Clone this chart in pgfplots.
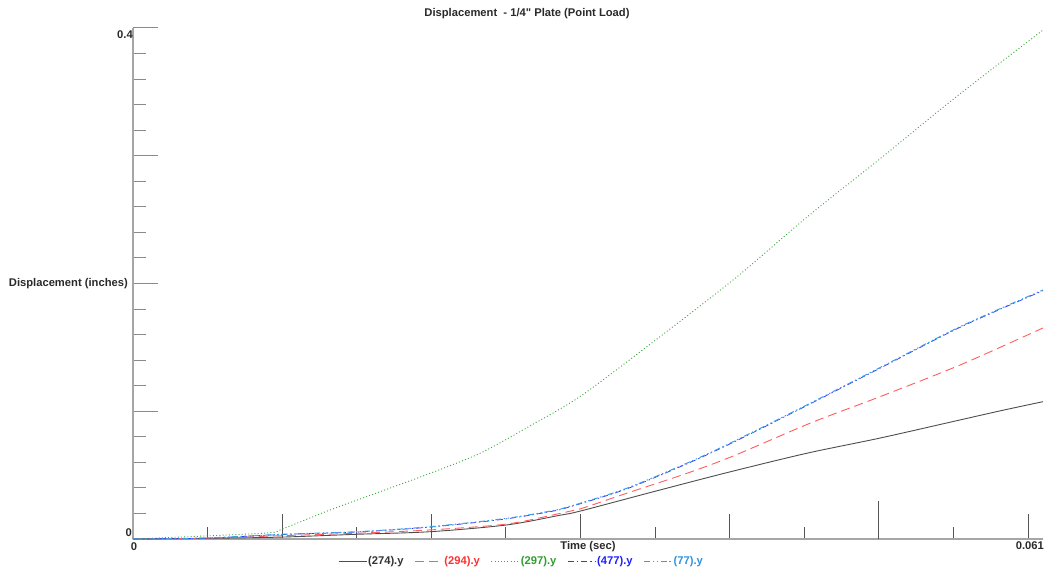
\documentclass[border=0pt]{standalone}
\usepackage{fontspec}
\setmainfont{Liberation Sans}
\newfontfamily\nomap{Liberation Sans}
\usepackage{pgfplots}
\pgfplotsset{compat=1.18}
\usepackage{pgfplotstable}

\definecolor{c274}{HTML}{4D4D4D}
\definecolor{c294}{HTML}{FF5C5C}
\definecolor{c297}{HTML}{3DAA3D}
\definecolor{c477}{HTML}{3535FF}
\definecolor{c77}{HTML}{3A9FE6}
\definecolor{t274}{HTML}{333333}
\definecolor{t294}{HTML}{FF3030}
\definecolor{t297}{HTML}{2E9E2E}
\definecolor{t477}{HTML}{2020FF}
\definecolor{t77}{HTML}{2E95DD}
\definecolor{axgray}{HTML}{A6A6A6}
\definecolor{xtk}{HTML}{555555}
\definecolor{ytk}{HTML}{8A8A8A}
\definecolor{txt}{HTML}{2A2A2A}

\newcommand\lbl{\fontsize{11.2}{13}\selectfont\bfseries}

\pgfplotstableread{
t d
0 0
0.0049 0.0005
0.00997 0.0015
0.0150 0.0037
0.01991 0.0057
0.02505 0.0110
0.02862 0.0186
0.02996 0.0218
0.03488 0.0370
0.03980 0.0519
0.04516 0.0671
0.05007 0.0790
0.05544 0.0932
0.05832 0.1008
0.0610 0.1075
}\tabA

\pgfplotstableread{
t d
0 0
0.0049 0.0006
0.00997 0.0026
0.0150 0.0045
0.01991 0.0071
0.02505 0.0117
0.02862 0.0200
0.02996 0.0235
0.03309 0.0358
0.03712 0.0514
0.04024 0.0650
0.04538 0.0906
0.05007 0.1114
0.05544 0.1362
0.0610 0.1652
}\tabB

\pgfplotstableread{
t d
0 0
0.00489 0.0024
0.00918 0.0049
0.00997 0.0076
0.01321 0.0227
0.01656 0.0370
0.01991 0.0514
0.02326 0.0671
0.02661 0.0885
0.02996 0.1115
0.03444 0.1505
0.04022 0.2027
0.04511 0.2513
0.05014 0.2982
0.05517 0.3460
0.0610 0.3984
}\tabC

\pgfplotstableread{
t d
0 0
0.0049 0.0007
0.00997 0.0035
0.0150 0.0055
0.01991 0.0093
0.02505 0.0158
0.02862 0.0229
0.02996 0.0275
0.03309 0.0392
0.03712 0.0588
0.04024 0.0757
0.04538 0.1057
0.05041 0.1357
0.05544 0.1657
0.0610 0.1944
}\tabD

\pgfplotstableread{
t d
0 0
0.0049 0.0008
0.00997 0.0037
0.0150 0.0057
0.01991 0.0096
0.02505 0.0162
0.02862 0.0233
0.02996 0.0279
0.03309 0.0397
0.03712 0.0593
0.04024 0.0762
0.04538 0.1062
0.05041 0.1362
0.05544 0.1662
0.0610 0.1949
}\tabE

\begin{document}
\begin{tikzpicture}
\begin{axis}[
  scale only axis, width=910pt, height=511pt,
  xmin=0, xmax=0.061, ymin=0, ymax=0.4,
  scaled x ticks=false, scaled y ticks=false,
  axis x line*=bottom, axis y line*=left,
  x axis line style={color=axgray, line width=1.4pt},
  y axis line style={color=axgray, line width=1.8pt},
  tick align=inside,
  xtick={0.01,0.02,0.03,0.04,0.06},
  minor xtick={0.005,0.015,0.025,0.035,0.045,0.055},
  extra x ticks={0.05},
  extra x tick style={major tick length=38pt},
  extra x tick labels={},
  xticklabels={}, yticklabels={},
  ytick={0,0.1,0.2,0.3,0.4},
  minor y tick num=4,
  major tick length=25pt, minor tick length=12.5pt,
  x tick style={color=xtk, line width=1pt},
  y tick style={color=ytk, line width=1pt},
  clip=false,
  every axis plot/.append style={smooth, tension=0.5},
  legend image code/.code={\draw[#1, sharp plot] (0pt,0pt) -- (28pt,0pt);},
  legend style={at={(0.4264,-0.0431)}, anchor=center, draw=none, fill=none,
    font=\lbl, legend columns=5, inner sep=0pt,
    nodes={inner sep=1pt},
    /tikz/every even column/.append style={column sep=10pt}},
]
\addplot[c274, line width=0.9pt] table[x=t,y=d]{\tabA};
\addlegendentry{\textcolor{t274}{(274).y}}
\addplot[c294, line width=0.9pt, dash pattern=on 9pt off 5pt] table[x=t,y=d]{\tabB};
\addlegendentry{\textcolor{t294}{(294).y}}
\addplot[c297, line width=0.9pt, dash pattern=on 1pt off 2.2pt] table[x=t,y=d]{\tabC};
\addlegendentry{\textcolor{t297}{(297).y}}
\addplot[c477, line width=0.75pt, dash pattern=on 6pt off 3pt on 1.5pt off 3pt] table[x=t,y=d]{\tabD};
\addlegendentry{\textcolor{t477}{(477).y}}
\addplot[c77, line width=1pt, dash pattern=on 6pt off 2.5pt on 1.5pt off 2.5pt on 1.5pt off 2.5pt] table[x=t,y=d]{\tabE};
\addlegendentry{\textcolor{t77}{(77).y}}

\coordinate (O) at (rel axis cs:0,0);
\node[anchor=north east, inner sep=0pt, font=\lbl, text=txt, yshift=-2pt] at (axis cs:0,0.4) {0.4};
\node[anchor=south east, inner sep=0pt, font=\lbl, text=txt, yshift=2pt, xshift=-1pt] at (axis cs:0,0) {0};
\node[anchor=north, inner sep=0pt, font=\lbl, text=txt, yshift=-3pt, xshift=1pt] at (axis cs:0,0) {0};
\node[anchor=north east, inner sep=0pt, font=\lbl, text=txt, yshift=-2pt, xshift=1pt] at (axis cs:0.061,0) {0.061};
\node[anchor=north, inner sep=0pt, font=\lbl, text=txt, yshift=-2pt] at (axis description cs:0.5,0) {Time (sec)};
\node[anchor=east, inner sep=0pt, font=\lbl, text=txt, xshift=-5pt] at (axis cs:0,0.2) {Displacement (inches)};
\node[anchor=center, inner sep=0pt, font=\lbl, text=txt, xshift=394pt, yshift=525pt] at (O) {Displacement\ \ - 1/4{\nomap"} Plate (Point Load)};
\end{axis}
\pgfresetboundingbox
\path[use as bounding box] (O) ++(-133pt,-32pt) rectangle ++(1049pt,571pt);
\end{tikzpicture}
\end{document}
